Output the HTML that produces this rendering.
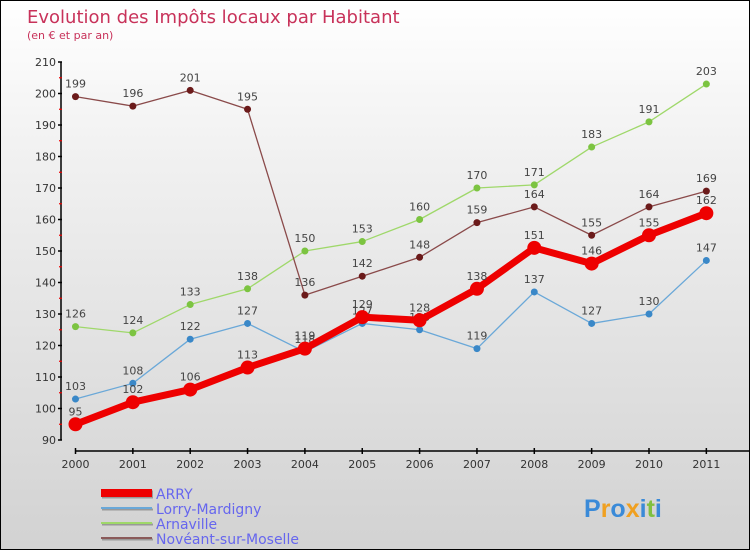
<!DOCTYPE html>
<html><head><meta charset="utf-8"><style>
html,body{margin:0;padding:0}
body{width:750px;height:550px;overflow:hidden}
#wrap{position:relative;width:748px;height:548px;border:1px solid #000;background:linear-gradient(#ffffff,#f0f0f0 30%,#d2d2d2);font-family:"DejaVu Sans","Liberation Sans",sans-serif}
</style></head><body>
<div id="wrap">
<svg id="chart" width="748" height="548" style="position:absolute;left:0;top:0"></svg>
</div>
<script>
const years=["2000","2001","2002","2003","2004","2005","2006","2007","2008","2009","2010","2011"];
const arry=[95,102,106,113,119,129,128,138,151,146,155,162];
const lorry=[103,108,122,127,118,127,125,119,137,127,130,147];
const arnaville=[126,124,133,138,150,153,160,170,171,183,191,203];
const noveant=[199,196,201,195,136,142,148,159,164,155,164,169];
const yTicks=[90,100,110,120,130,140,150,160,170,180,190,200,210];
const seriesNames=["ARRY","Lorry-Mardigny","Arnaville","Novéant-sur-Moselle"];

const NS="http://www.w3.org/2000/svg";
const svg=document.getElementById('chart');
function x(i){return 74.5+i*57.35;}
function y(v){return 439-(v-90)*(378/120);}
function el(t,a,p){const e=document.createElementNS(NS,t);for(const k in a)e.setAttribute(k,a[k]);(p||svg).appendChild(e);return e;}

const title=el('text',{x:26,y:22,'font-size':18,fill:'#c8325a','font-family':'DejaVu Sans, Liberation Sans, sans-serif'});
title.textContent='Evolution des Impôts locaux par Habitant';


const sub=el('text',{x:26,y:38,'font-size':11,fill:'#c8325a'});
sub.textContent='(en € et par an)';



const ya=el('line',{x1:60,y1:y(210),x2:60,y2:y(90),stroke:'#000','stroke-width':1.5});


yTicks.forEach((v,i)=>{
  el('line',{x1:57,x2:61,y1:y(v),y2:y(v),stroke:'#000','stroke-width':1.5});
  if(i<yTicks.length-1){el('line',{x1:58,x2:61,y1:y(v+5),y2:y(v+5),stroke:'#e00','stroke-width':1.2});}
  const t=el('text',{x:55,y:y(v)+4,'font-size':11,fill:'#333','text-anchor':'end'});
  t.textContent=v;
  
  
});
const xa=el('line',{x1:74,y1:450,x2:748,y2:450,stroke:'#000','stroke-width':1.5});


years.forEach((yr,i)=>{
  el('line',{x1:x(i),x2:x(i),y1:447,y2:453,stroke:'#000','stroke-width':1.5});
  const t=el('text',{x:x(i),y:467,'font-size':11,fill:'#333','text-anchor':'middle'});
  t.textContent=yr;
  
  
});

function series(data,color,lw,r,dot,name){
  const g=el('g',{});
  
  
  const pts=data.map((v,i)=>x(i)+','+y(v)).join(' ');
  el('polyline',{points:pts,fill:'none',stroke:color,'stroke-width':lw,'stroke-linejoin':'round'},g);
  data.forEach((v,i)=>{
    const c=el('circle',{cx:x(i),cy:y(v),r:r,fill:dot},g);
    
    
    const t=el('text',{x:x(i),y:y(v)-9,'font-size':11,fill:'#444','text-anchor':'middle'},g);
    t.textContent=v;
    
    
  });
}
series(arnaville,'#9fd86a',1.3,3.5,'#7cc441','arnaville');
series(noveant,'#8a4a4a',1.3,3.5,'#6b1a1a','noveant');
series(lorry,'#6aa8d8',1.3,3.5,'#3a88c8','lorry');
series(arry,'#ee0000',7,7,'#ee0000','arry');

const legColors=['#ee0000','#6aa8d8','#9fd86a','#8a5a5a'];
const legW=[8,2,2,2];
seriesNames.forEach((n,i)=>{
  const ly=492+i*15;
  const g=el('g',{});
  
  
  el('line',{x1:101,x2:152,y1:ly+1.5,y2:ly+1.5,stroke:'#999','stroke-width':legW[i]},g);
  el('line',{x1:100,x2:151,y1:ly,y2:ly,stroke:legColors[i],'stroke-width':legW[i]},g);
  const t=el('text',{x:155,y:ly+6,'font-size':14,fill:'#6666ee'},g);
  t.textContent=n;
});
const logo=el('text',{x:583,y:516,'font-size':25,'font-weight':'bold','font-family':'Liberation Sans, sans-serif'});


[['P','#3a8ad8'],['r','#f0a020'],['o','#3a8ad8'],['x','#f0a020'],['i','#3a8ad8'],['t','#80c040'],['i','#3a8ad8']].forEach(([c,f])=>{const s=el('tspan',{fill:f},logo);s.textContent=c;});
</script>
</body></html>
